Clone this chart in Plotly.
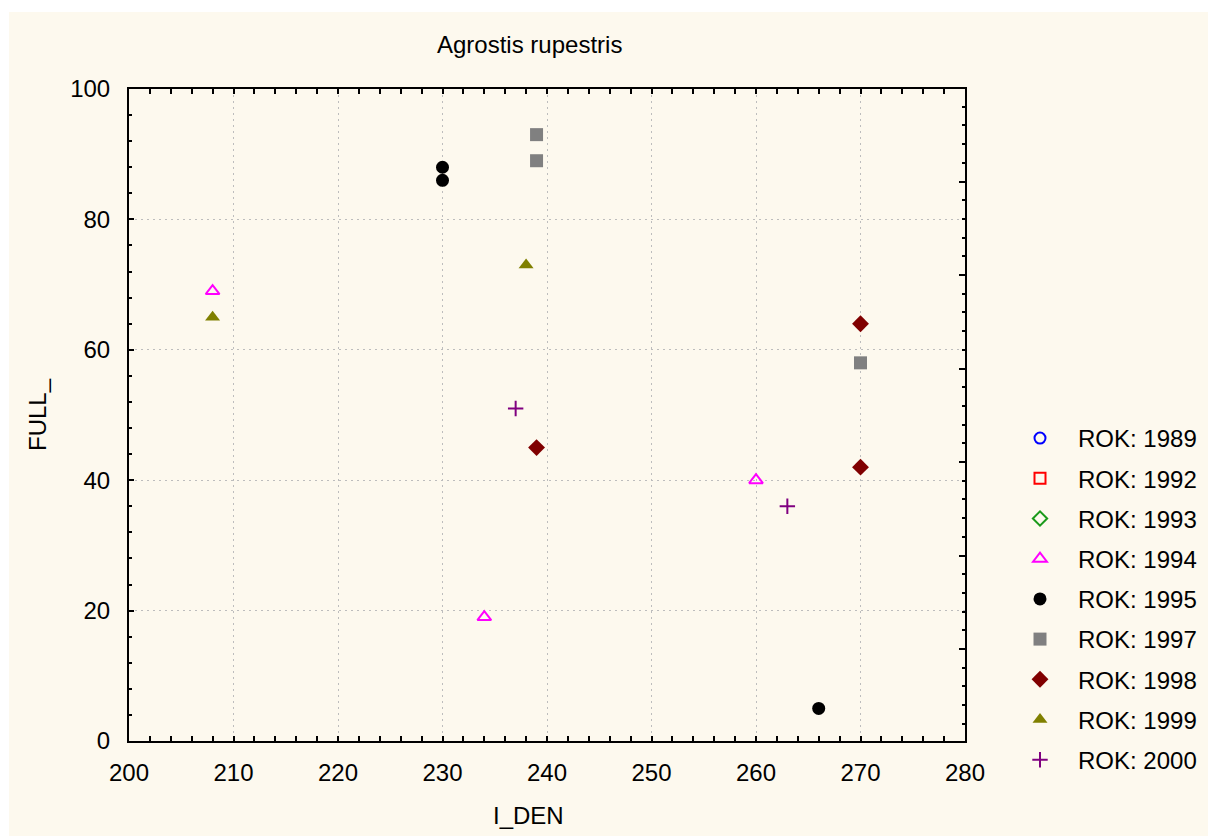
import plotly.graph_objects as go

# Series for each year (ROK): x = I_DEN, y = FULL_
years = ["1989", "1992", "1993", "1994", "1995", "1997", "1998", "1999", "2000"]

x_1989, y_1989 = [], []
x_1992, y_1992 = [], []
x_1993, y_1993 = [], []
x_1994, y_1994 = [208, 234, 260], [69, 19, 40]
x_1995, y_1995 = [230, 230, 266], [88, 86, 5]
x_1997, y_1997 = [239, 239, 270], [93, 89, 58]
x_1998, y_1998 = [239, 270, 270], [45, 64, 42]
x_1999, y_1999 = [208, 238], [65, 73]
x_2000, y_2000 = [237, 263], [51, 36]

x_ticks = [200, 210, 220, 230, 240, 250, 260, 270, 280]
y_ticks = [0, 20, 40, 60, 80, 100]

series = [
    (x_1989, y_1989, "circle-open", "#0000ff", 11),
    (x_1992, y_1992, "square-open", "#ff0000", 11),
    (x_1993, y_1993, "diamond-open", "#1a9a1a", 11),
    (x_1994, y_1994, "triangle-up-open", "#ff00ff", 12),
    (x_1995, y_1995, "circle", "#000000", 13),
    (x_1997, y_1997, "square", "#808080", 13),
    (x_1998, y_1998, "diamond", "#800000", 13),
    (x_1999, y_1999, "triangle-up", "#808000", 13),
    (x_2000, y_2000, "cross-thin-open", "#800080", 11),
]

FONT = "Liberation Sans, Arial, sans-serif"
FS = 24
CREAM = "#fdf9ee"

fig = go.Figure()
for yr, (xs, ys, sym, col, sz) in zip(years, series):
    fig.add_trace(go.Scatter(
        x=xs if xs else [None], y=ys if ys else [None],
        mode="markers", name=f"ROK: {yr}", legendgroup=yr,
        marker=dict(symbol=sym, color=col, size=sz,
                    line=dict(color=col, width=2 if "open" in sym else 0)),
    ))

# helper trace so the right-hand tick scale is drawn
fig.add_trace(go.Scatter(x=[None], y=[None], yaxis="y2", showlegend=False,
                         hoverinfo="skip", mode="markers"))

axis_common = dict(
    showline=True, linecolor="#000000", linewidth=2,
    ticks="inside", ticklen=5, tickwidth=2, tickcolor="#000000",
    tickfont=dict(family=FONT, size=FS, color="#000000"),
    showgrid=True, gridcolor="#bdbdbd", gridwidth=1, griddash="2px,4px",
    zeroline=False,
)

fig.update_layout(
    width=1208, height=837,
    margin=dict(l=129, r=243, t=89, b=96),
    paper_bgcolor="#ffffff",
    plot_bgcolor="#ffffff",
    font=dict(family=FONT, size=FS, color="#000000"),
    xaxis=dict(axis_common, range=[200, 280], tickvals=x_ticks, mirror="allticks",
               minor=dict(dtick=2, ticks="inside", ticklen=3, tickwidth=2,
                          tickcolor="#000000", showgrid=False),
               ticklabelstandoff=9),
    yaxis=dict(axis_common, range=[0, 100], tickvals=y_ticks, mirror=False,
               minor=dict(dtick=4, tick0=0, ticks="inside", ticklen=3, tickwidth=2,
                          tickcolor="#000000", showgrid=False),
               ticklabelstandoff=12),
    yaxis2=dict(overlaying="y", side="right", range=[0, 100],
                showline=True, linecolor="#000000", linewidth=2,
                ticks="inside", ticklen=6, tickwidth=2, tickcolor="#000000",
                tick0=14.11, dtick=14.34, showticklabels=False,
                showgrid=False, zeroline=False,
                minor=dict(tick0=14.11, dtick=2.868, ticks="inside", ticklen=3,
                           tickwidth=2, tickcolor="#000000", showgrid=False)),
    showlegend=True,
    legend=dict(xref="container", yref="container",
                x=1002 / 1208, xanchor="left", y=(837 - 416) / 837, yanchor="top",
                bgcolor="rgba(0,0,0,0)", font=dict(family=FONT, size=FS),
                tracegroupgap=6, itemwidth=66, traceorder="grouped"),
    shapes=[dict(type="rect", xref="paper", yref="paper", layer="below",
                 x0=-120 / 836, x1=1079 / 836, y0=-95 / 652, y1=729 / 652,
                 fillcolor=CREAM, line=dict(width=0))],
    annotations=[
        dict(text="Agrostis rupestris", xref="paper", yref="paper",
             x=(529 - 129) / 836, y=(741 - 44) / 652, showarrow=False,
             xanchor="center", yanchor="middle", font=dict(family=FONT, size=FS)),
        dict(text="I_DEN", xref="paper", yref="paper",
             x=(528 - 129) / 836, y=(741 - 815) / 652, showarrow=False,
             xanchor="center", yanchor="middle", font=dict(family=FONT, size=FS)),
        dict(text="FULL_", xref="paper", yref="paper", textangle=-90,
             x=(37 - 129) / 836, y=0.5, showarrow=False,
             xanchor="center", yanchor="middle", font=dict(family=FONT, size=FS)),
    ],
)

fig.write_html("out.html")
